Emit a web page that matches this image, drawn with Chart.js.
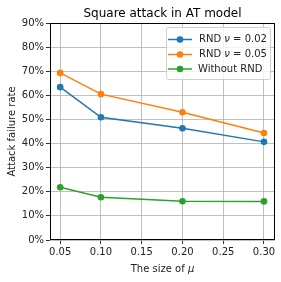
<!DOCTYPE html>
<html>
<head>
<meta charset="utf-8">
<script src="https://cdn.jsdelivr.net/npm/chart.js@4/dist/chart.umd.min.js"></script>
<style>
html,body{margin:0;padding:0;background:#fff;}
#wrap{width:281px;height:282px;}
</style>
</head>
<body>
<div id="wrap"><canvas id="c" width="281" height="282"></canvas></div>
<script>
const muSizes = [0.05, 0.10, 0.20, 0.30];
const rndNu002 = [63.4, 50.9, 46.3, 40.7];
const rndNu005 = [69.3, 60.5, 53.0, 44.4];
const withoutRnd = [21.9, 17.7, 16.1, 16.0];
const xTicks = [0.05, 0.10, 0.15, 0.20, 0.25, 0.30];
const yTicks = [0, 10, 20, 30, 40, 50, 60, 70, 80, 90];
const seriesNames = [['RND ', 'ν', ' = 0.02'], ['RND ', 'ν', ' = 0.05'], ['Without RND', '', '']];
const titleText = 'Square attack in AT model';
const xTitle = ['The size of ', 'μ'];
const yTitle = 'Attack failure rate';

const FONT = '"DejaVu Sans", sans-serif';
const colors = ['#1f77b4', '#ff7f0e', '#2ca02c'];
const series = [rndNu002, rndNu005, withoutRnd];

function pts(arr){ return muSizes.map((x,i)=>({x:x, y:arr[i]})); }

const datasets = series.map((s,i)=>({
  label: seriesNames[i].join(''),
  data: pts(s),
  borderColor: colors[i],
  backgroundColor: colors[i],
  borderWidth: 1.5,
  pointRadius: 3.3,
  pointHoverRadius: 3.3,
  pointBorderWidth: 0,
  tension: 0
}));

const deco = {
  id: 'deco',
  afterDraw(chart){
    const ctx = chart.ctx, a = chart.chartArea;
    ctx.save();
    // frame
    ctx.strokeStyle = '#000'; ctx.lineWidth = 1;
    const L = Math.round(a.left)+0.5, T = Math.round(a.top)+0.5, R = Math.round(a.right)-0.5, B = Math.round(a.bottom)-0.5;
    ctx.strokeRect(L, T, R-L, B-T);
    // title
    ctx.fillStyle = '#000';
    ctx.font = '12px ' + FONT;
    ctx.textAlign = 'center'; ctx.textBaseline = 'alphabetic';
    ctx.fillText(titleText, (a.left+a.right)/2, 17);
    // x title
    ctx.font = '10px ' + FONT;
    ctx.fillStyle = '#222';
    const w1 = ctx.measureText(xTitle[0]).width;
    ctx.font = 'italic 10px ' + FONT;
    const w2 = ctx.measureText(xTitle[1]).width;
    let sx = (a.left+a.right)/2 - (w1+w2)/2;
    ctx.textAlign = 'left';
    ctx.font = '10px ' + FONT;
    ctx.fillText(xTitle[0], sx, 272);
    ctx.font = 'italic 10px ' + FONT;
    ctx.fillText(xTitle[1], sx + w1, 272);
    // y title
    ctx.save();
    ctx.translate(15, (a.top+a.bottom)/2);
    ctx.rotate(-Math.PI/2);
    ctx.textAlign = 'center';
    ctx.font = '10px ' + FONT;
    ctx.fillText(yTitle, 0, 0);
    ctx.restore();
    // legend
    const lx = 166, ly = 27, lw = 104, lh = 52;
    ctx.fillStyle = 'rgba(255,255,255,0.8)';
    ctx.strokeStyle = '#d0d0d0';
    ctx.lineWidth = 1;
    ctx.beginPath();
    if (ctx.roundRect) ctx.roundRect(lx+0.5, ly+0.5, lw, lh, 2); else ctx.rect(lx+0.5, ly+0.5, lw, lh);
    ctx.fill(); ctx.stroke();
    const rows = [39.5, 54.5, 69];
    seriesNames.forEach((nm,i)=>{
      const y = rows[i];
      ctx.strokeStyle = colors[i]; ctx.lineWidth = 1.5;
      ctx.beginPath(); ctx.moveTo(168, y); ctx.lineTo(192, y); ctx.stroke();
      ctx.fillStyle = colors[i];
      ctx.beginPath(); ctx.arc(180, y, 3.3, 0, Math.PI*2); ctx.fill();
      ctx.fillStyle = '#222';
      ctx.textAlign = 'left'; ctx.textBaseline = 'middle';
      let x = i===2 ? 198 : 199;
      ctx.font = '10px ' + FONT;
      ctx.fillText(nm[0], x, y); x += ctx.measureText(nm[0]).width;
      if (nm[1]) {
        ctx.font = 'italic 10px ' + FONT;
        ctx.fillText(nm[1], x, y); x += ctx.measureText(nm[1]).width;
        ctx.font = '10px ' + FONT;
        ctx.fillText(nm[2], x, y);
      }
    });
    ctx.restore();
  }
};

new Chart(document.getElementById('c'), {
  type: 'line',
  data: { datasets },
  options: {
    responsive: false,
    animation: false,
    events: [],
    layout: { padding: { top: 23, right: 6, left: 0, bottom: 0 } },
    plugins: { legend: { display: false }, title: { display: false }, tooltip: { enabled: false } },
    scales: {
      x: {
        type: 'linear',
        min: 0.0375, max: 0.3135,
        afterBuildTicks(s){ s.ticks = xTicks.map(v=>({value:v})); },
        afterFit(s){ s.height = 42; },
        ticks: { font: { family: FONT, size: 10 }, color: '#222', padding: 2, maxRotation: 0,
          callback: v => v.toFixed(2) },
        grid: { color: '#b0b0b0', lineWidth: 0.8, tickColor: '#000', tickLength: 4, drawOnChartArea: true },
        border: { display: false }
      },
      y: {
        type: 'linear',
        min: 0, max: 90,
        afterBuildTicks(s){ s.ticks = yTicks.map(v=>({value:v})); },
        afterFit(s){ s.width = 50; },
        ticks: { font: { family: FONT, size: 10 }, color: '#222', padding: 2,
          callback: v => v + '%' },
        grid: { color: '#b0b0b0', lineWidth: 0.8, tickColor: '#000', tickLength: 4 },
        border: { display: false }
      }
    }
  },
  plugins: [deco]
});
</script>
</body>
</html>
